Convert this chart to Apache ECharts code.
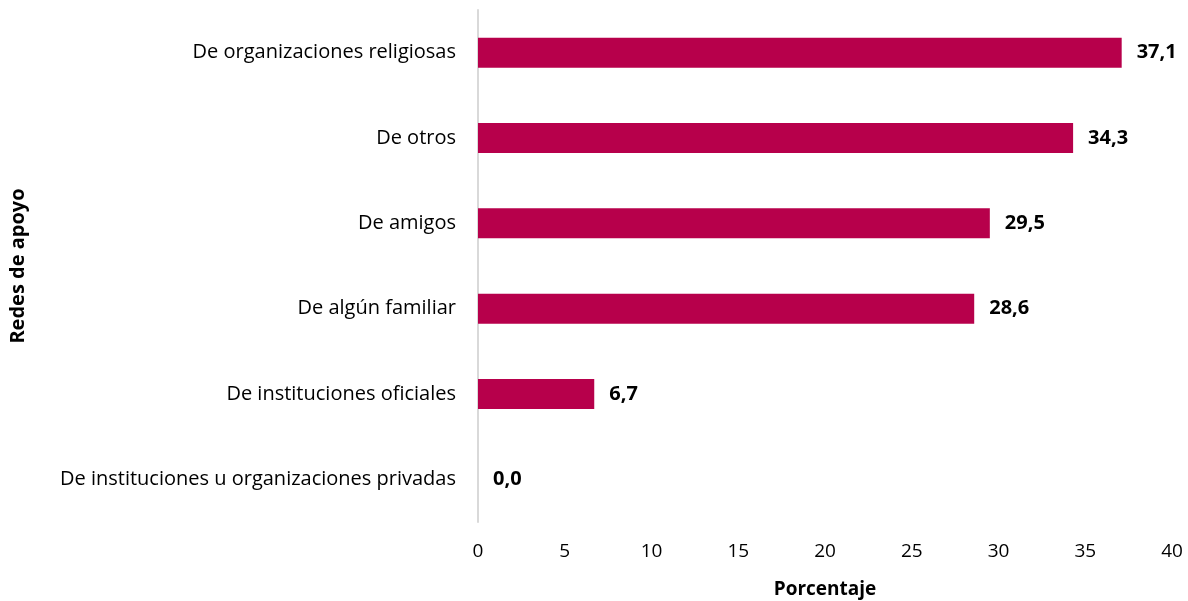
<!DOCTYPE html>
<html>
<head>
<meta charset="utf-8">
<script src="https://cdn.jsdelivr.net/npm/echarts@6/dist/echarts.min.js"></script>
<style>
  html, body { margin: 0; padding: 0; background: #fff; }
  #chart { width: 1188px; height: 601px; }
</style>
</head>
<body>
<div id="chart"></div>
<script>
// categories from bottom to top (category axis draws first item at bottom)
var categorias = [
    'De instituciones u organizaciones privadas',
    'De instituciones oficiales',
    'De algún familiar',
    'De amigos',
    'De otros',
    'De organizaciones religiosas'
];
var porcentajes = [0.0, 6.7, 28.6, 29.5, 34.3, 37.1];
var ticksX = [0, 5, 10, 15, 20, 25, 30, 35, 40];

var fuente = '"Open Sans"';
var chart = echarts.init(document.getElementById('chart'));

var opt = {
    animation: false,
    grid: { left: 478, right: 16, top: 10, bottom: 79, outerBoundsMode: 'none' },
    xAxis: {
        type: 'value',
        min: ticksX[0],
        max: ticksX[ticksX.length - 1],
        interval: 5,
        name: 'Porcentaje',
        nameLocation: 'middle',
        nameGap: 58,
        nameTextStyle: { fontFamily: fuente, fontSize: 19, fontWeight: 'bold', color: '#000' },
        axisLine: { show: false },
        axisTick: { show: false },
        splitLine: { show: false },
        axisLabel: { fontFamily: fuente, fontSize: 19, color: '#000', margin: 20 }
    },
    yAxis: {
        type: 'category',
        data: categorias,
        name: 'Redes de apoyo',
        nameLocation: 'middle',
        nameGap: 450,
        nameRotate: 90,
        nameTextStyle: { fontFamily: fuente, fontSize: 20, fontWeight: 'bold', color: '#000' },
        axisLine: { show: true, lineStyle: { color: '#D9D9D9', width: 2 } },
        axisTick: { show: false },
        axisLabel: { fontFamily: fuente, fontSize: 20, color: '#000', margin: 22 }
    },
    series: [{
        type: 'bar',
        data: porcentajes,
        barWidth: 30,
        itemStyle: { color: '#B7004B' },
        label: {
            show: true,
            position: 'right',
            distance: 15,
            fontFamily: fuente,
            fontSize: 20,
            fontWeight: 'bold',
            color: '#000',
            formatter: function (p) { return p.value.toFixed(1).replace('.', ','); }
        }
    }]
};

chart.setOption(opt);
</script>
</body>
</html>
